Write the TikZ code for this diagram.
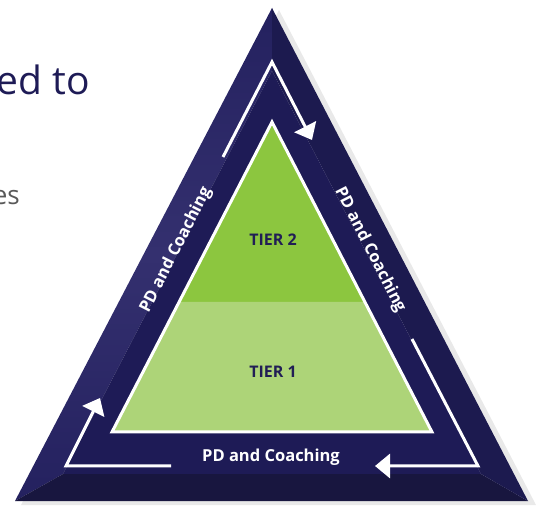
\documentclass[tikz,border=0pt]{standalone}
\usepackage{fontspec}
\setmainfont{Open Sans}
\usetikzlibrary{calc,arrows.meta}
\definecolor{triNavy}{HTML}{1E1B56}
\definecolor{triNavyL}{HTML}{24215F}
\definecolor{triNavyH}{HTML}{34306F}
\definecolor{triNavyB}{HTML}{18163F}
\definecolor{triNavyR}{HTML}{1C1A4F}
\definecolor{triGreenD}{HTML}{8CC63F}
\definecolor{triGreenL}{HTML}{ADD478}
\definecolor{triInk}{HTML}{211E55}
\definecolor{triGray}{HTML}{595959}
\definecolor{triShadow}{HTML}{E9E9E9}

\begin{document}
\begin{tikzpicture}[x=1pt,y=-1pt,
  tier/.style={font=\fontsize{16}{16}\selectfont\bfseries,text=triInk,inner sep=0pt},
  pd/.style={font=\fontsize{16.5}{17}\selectfont\bfseries,text=white,inner sep=0pt},
  flow/.style={white,line width=3pt,line join=miter,
               -{Triangle[length=15pt,width=24pt]}}]
  \useasboundingbox (0,0) rectangle (550,508);
  % slide text, cut at the left edge
  \node[anchor=base east,inner sep=0pt,font=\fontsize{39}{39}\selectfont,
        text=triNavy] (head) at (90,95) {ed to};
  \node[anchor=base east,inner sep=0pt,font=\fontsize{26}{26}\selectfont,
        text=triGray] (sub) at (20,205) {es};
  % outer triangle and bevel
  \coordinate (A) at (272,8);
  \coordinate (B) at (15,501);
  \coordinate (C) at (528,501);
  \coordinate (a) at (272,71);
  \coordinate (b) at (63,474);
  \coordinate (c) at (481,474);
  \fill[triShadow] ($(A)+(7,2)$) -- ($(B)+(6,4)$) -- ($(C)+(8,4)$) -- cycle;
  \shade[top color=triNavyL,bottom color=triNavyL,middle color=triNavyH]
    (A) -- (B) -- (b) -- (a) -- cycle;
  \fill[triNavyB] (B) -- (C) -- (c) -- (b) -- cycle;
  \fill[triNavyR] (C) -- (A) -- (a) -- (c) -- cycle;
  \fill[triNavy] (a) -- (b) -- (c) -- cycle;
  % tiers
  \coordinate (g) at (272,122);
  \coordinate (gl) at (112,432);
  \coordinate (gr) at (432,432);
  \coordinate (sl) at ($(g)!0.5806!(gl)$);
  \coordinate (sr) at ($(g)!0.5806!(gr)$);
  \fill[triGreenD] (g) -- (sl) -- (sr) -- cycle;
  \fill[triGreenL] (sl) -- (gl) -- (gr) -- (sr) -- cycle;
  \draw[white,line width=3pt,line join=miter] (g) -- (gl) -- (gr) -- cycle;
  \node[tier] (t2) at (273,240) {TIER 2};
  \node[tier] (t1) at (273,372) {TIER 1};
  % PD and Coaching cycle
  \coordinate (p1) at (171,466);
  \coordinate (pBL) at (66,466);
  \coordinate (p1e) at (100,398);
  \coordinate (p2) at (223,157);
  \coordinate (pT) at (272,62);
  \coordinate (p2e) at (312,140);
  \coordinate (p3) at (412,339);
  \coordinate (pBR) at (478,466);
  \coordinate (p3e) at (375,466);
  \draw[flow] (p1) -- (pBL) -- (p1e);
  \draw[flow] (p2) -- (pT) -- (p2e);
  \draw[flow] (p3) -- (pBR) -- (p3e);
  \node[pd,rotate=63] (pdl) at (176,250) {PD and Coaching};
  \node[pd,rotate=-63] (pdr) at (370,250) {PD and Coaching};
  \node[pd] (pdb) at (271,457) {PD and Coaching};
\end{tikzpicture}
\end{document}
